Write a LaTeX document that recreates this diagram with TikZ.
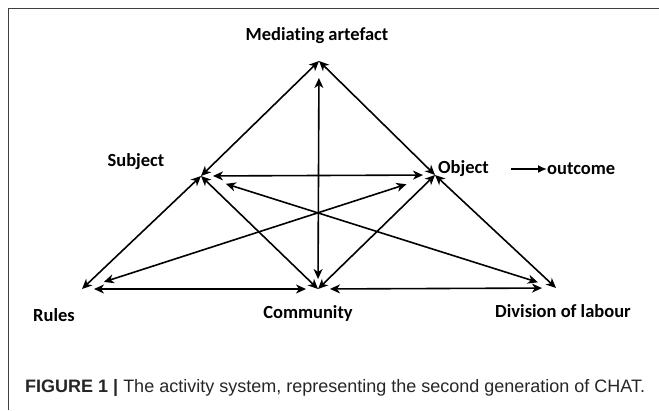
\documentclass[tikz,border=0pt]{standalone}
\usepackage{fontspec}
\setmainfont{Carlito}[Ligatures=NoCommon]
\newfontfamily\capfont{Liberation Sans}
\usetikzlibrary{arrows.meta}
\begin{document}
\begin{tikzpicture}[x=1pt,y=-1pt,
  link/.style={<->,>={Stealth[length=10pt,width=9pt,inset=3pt]},line width=1.6pt},
  lbl/.style={font=\bfseries\fontsize{18.5}{18.5}\selectfont,inner sep=0pt}]
\useasboundingbox (0,0) rectangle (659,410);
\draw[black!75] (8,410) -- (8,8) -- (659,8);
% corners of the activity system
\coordinate (med) at (319,61);
\coordinate (subj) at (201,176);
\coordinate (obj) at (435,175);
\coordinate (rules) at (82,289);
\coordinate (comm) at (318,289);
\coordinate (div) at (556,288);
% labels
\node[lbl] (medlbl) at (317,36) {Mediating artefact};
\node[lbl] (subjlbl) at (136,162) {Subject};
\node[lbl,anchor=west] (objlbl) at (438,169) {Object};
\node[lbl,anchor=west] (outlbl) at (547,169) {outcome};
\node[lbl] (ruleslbl) at (54,315) {Rules};
\node[lbl] (commlbl) at (308,313) {Community};
\node[lbl] (divlbl) at (563,311) {Division of labour};
% outer triangle and sides
\draw[link] (med) -- (subj);
\draw[link] (med) -- (obj);
\draw[link] (subj) -- (rules);
\draw[link] (obj) -- (div);
\draw[link] (subj) -- (comm);
\draw[link] (obj) -- (comm);
% inner links
\draw[link,shorten <=17pt,shorten >=10pt] (med) -- (comm);
\draw[link,shorten <=12pt,shorten >=12pt] (subj) -- (obj);
\draw[link,shorten <=26pt,shorten >=19pt] (subj) -- (div);
\draw[link,shorten <=23pt,shorten >=30pt] (rules) -- (obj);
\draw[link,shorten <=12pt,shorten >=12pt] (rules) -- (comm);
\draw[link,shorten <=12pt,shorten >=14pt] (comm) -- (div);
% outcome
\draw[-{Latex[length=9pt,width=8pt]},line width=1.6pt,shorten <=22pt] (objlbl.east) -- (outlbl.west);
% caption
\node[anchor=west,inner sep=0pt,text=black!85,font=\capfont\fontsize{18}{18}\selectfont] (cap) at (25,388)
  {\textbf{FIGURE 1 |} The activity system, representing the second generation of CHAT.};
\end{tikzpicture}
\end{document}
